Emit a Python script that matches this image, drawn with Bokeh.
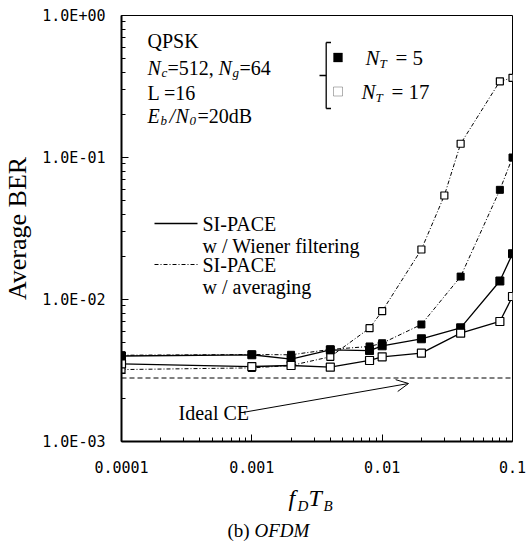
import math
from bokeh.plotting import figure
from bokeh.layouts import column
from bokeh.models import (FixedTicker, CustomJSTickFormatter, Label, Arrow, OpenHead,
                          Span, BoxAnnotation, Range1d)
from bokeh.embed import file_html
from bokeh.resources import INLINE

# ---------------- data ----------------
fdtb = [0.0001, 0.001, 0.002, 0.004, 0.008, 0.01, 0.02, 0.04, 0.08, 0.1]
wiener_nt5 = [4.0e-3, 4.08e-3, 3.8e-3, 4.42e-3, 4.37e-3, 4.72e-3, 5.29e-3, 6.32e-3, 1.35e-2, 2.1e-2]
wiener_nt17 = [3.52e-3, 3.37e-3, 3.43e-3, 3.34e-3, 3.72e-3, 3.95e-3, 4.19e-3, 5.79e-3, 7.0e-3, 1.05e-2]

avg_nt5_x = [0.0001, 0.001, 0.002, 0.004, 0.008, 0.01, 0.02, 0.04, 0.08, 0.1]
avg_nt5 = [4.05e-3, 4.1e-3, 4.08e-3, 4.45e-3, 4.67e-3, 4.92e-3, 6.67e-3, 1.45e-2, 5.92e-2, 1.0e-1]
avg_nt17_x = [0.0001, 0.001, 0.002, 0.004, 0.008, 0.01, 0.02, 0.03, 0.04, 0.08, 0.1]
avg_nt17 = [3.21e-3, 3.3e-3, 3.43e-3, 3.95e-3, 6.28e-3, 8.28e-3, 2.25e-2, 5.4e-2, 0.125, 0.344, 0.364]

ideal_ce = 2.8e-3

x_ticks = [0.0001, 0.001, 0.01, 0.1]
y_ticks = [0.001, 0.01, 0.1, 1.0]

# ---------------- main figure ----------------
W = 527
H1, H2 = 481, 60
L, R, T, B = 118, 15, 15, 40
p = figure(width=W, height=H1, x_axis_type="log", y_axis_type="log",
           x_range=(1e-4, 0.1), y_range=(1e-3, 1.0),
           output_backend="svg", toolbar_location=None,
           min_border_left=L, min_border_right=R, min_border_top=T, min_border_bottom=B)
p.background_fill_color = "white"
p.border_fill_color = "white"
p.xgrid.visible = False
p.ygrid.visible = False
p.outline_line_color = "black"
p.outline_line_width = 1

minor_x = [m * 10.0 ** e for e in range(-4, 0) for m in range(2, 10) if m * 10.0 ** e < 0.1]
minor_y = [m * 10.0 ** e for e in range(-3, 0) for m in range(2, 10)]
p.xaxis.ticker = FixedTicker(ticks=x_ticks, minor_ticks=minor_x)
p.yaxis.ticker = FixedTicker(ticks=y_ticks, minor_ticks=minor_y)
p.xaxis.formatter = CustomJSTickFormatter(code="return tick.toString();")
p.yaxis.formatter = CustomJSTickFormatter(code="""
const e = Math.round(Math.log10(tick));
const s = e < 0 ? '-' : '+';
const a = Math.abs(e);
return '1.0E' + s + (a < 10 ? '0' : '') + a;
""")
for ax in (p.xaxis, p.yaxis):
    ax.axis_line_width = 2
    ax.axis_line_color = "black"
    ax.major_tick_in = 7
    ax.major_tick_out = 0
    ax.minor_tick_in = 4
    ax.minor_tick_out = 0
    ax.major_tick_line_color = "black"
    ax.minor_tick_line_color = "black"
    ax.major_tick_line_width = 1
    ax.minor_tick_line_width = 1
    ax.major_label_text_font = "DejaVu Sans Mono"
    ax.major_label_text_font_size = "15px"
    ax.major_label_text_color = "black"
p.xaxis.major_label_standoff = 19
p.yaxis.major_label_standoff = 16

p.yaxis.axis_label = "Average BER"
p.yaxis.axis_label_text_font = "Liberation Serif"
p.yaxis.axis_label_text_font_size = "26px"
p.yaxis.axis_label_text_font_style = "normal"
p.yaxis.axis_label_text_color = "black"
p.yaxis.axis_label_standoff = 7

# ---------------- series ----------------
p.line(fdtb, wiener_nt5, line_color="black", line_width=1.3)
p.line(fdtb, wiener_nt17, line_color="black", line_width=1.3)
p.line(avg_nt5_x, avg_nt5, line_color="black", line_width=1, line_dash="4 2 1 2")
p.line(avg_nt17_x, avg_nt17, line_color="black", line_width=1, line_dash="4 2 1 2")

p.scatter(avg_nt5_x, avg_nt5, marker="square", size=7, fill_color="black", line_color="black")
p.scatter(avg_nt17_x, avg_nt17, marker="square", size=7, fill_color="white", line_color="black", line_width=1.2)
p.scatter(fdtb, wiener_nt5, marker="square", size=8, fill_color="black", line_color="black")
p.scatter(fdtb, wiener_nt17, marker="square", size=8, fill_color="white", line_color="black", line_width=1.2)

p.add_layout(Span(location=ideal_ce, dimension="width", line_color="black",
                  line_width=1, line_dash="5 3"))

# ---------------- annotations (positions in image pixels) ----------------
SERIF = "Liberation Serif"


def sx(px):
    return px - L


def sy(py):
    return (H1 - B) - py


def lab(px, py, text, size=20, style="normal", align="left", baseline="middle", angle=0.0):
    p.add_layout(Label(x=sx(px), y=sy(py), x_units="screen", y_units="screen", text=text,
                       text_font=SERIF, text_font_size=f"{size}px", text_font_style=style,
                       text_align=align, text_baseline=baseline, angle=angle,
                       text_color="black"))


def seg(x0, y0, x1, y1, dash="solid", width=1.3):
    p.add_layout(Arrow(x_start=sx(x0), y_start=sy(y0), x_end=sx(x1), y_end=sy(y1),
                       start_units="screen", end_units="screen", end=None,
                       line_color="black", line_width=width, line_dash=dash))


# parameters block
lab(144, 40, "QPSK")
lab(144, 67, "N", style="italic")
lab(158, 72, "c", size=13, style="italic")
lab(164, 67, "=512,")
lab(215, 67, "N", style="italic")
lab(229, 72, "g", size=13, style="italic")
lab(236, 67, "=64")
lab(144, 92, "L =16")
lab(144, 115, "E", style="italic")
lab(157, 120, "b", size=13, style="italic")
lab(166, 115, "/", style="italic")
lab(172, 115, "N", style="italic")
lab(186, 120, "0", size=13, style="italic")
lab(194, 115, "=20dB")

# N_T legend (bracket + markers)
seg(322.7, 42, 322.7, 108)
seg(322.7, 42, 327.5, 42)
seg(322.7, 108, 327.5, 108)
seg(316, 75, 322.7, 75)
p.add_layout(BoxAnnotation(left=sx(330), right=sx(339), top=sy(52.5), bottom=sy(61.5),
                           left_units="screen", right_units="screen", top_units="screen",
                           bottom_units="screen", fill_color="black", fill_alpha=1,
                           line_color="black", line_width=1))
p.add_layout(BoxAnnotation(left=sx(330), right=sx(339), top=sy(86.5), bottom=sy(95.5),
                           left_units="screen", right_units="screen", top_units="screen",
                           bottom_units="screen", fill_color="white", fill_alpha=1,
                           line_color="black", line_width=1))
lab(362, 57, "N", size=21, style="italic")
lab(376, 63, "T", size=13, style="italic")
lab(392, 57, "= 5", size=21)
lab(358, 91, "N", size=21, style="italic")
lab(372, 97, "T", size=13, style="italic")
lab(388, 91, "= 17", size=21)

# line-style legend
seg(151, 223, 194, 223, width=1.5)
lab(199, 223, "SI-PACE")
lab(199, 245, "w / Wiener filtering")
seg(151, 264, 194, 264, dash="4 2 1 2", width=1)
lab(199, 264, "SI-PACE")
lab(199, 286, "w / averaging")

# Ideal CE
lab(175, 412, "Ideal CE")
p.add_layout(Arrow(x_start=sx(239), y_start=sy(412), x_end=sx(405), y_end=sy(383),
                   start_units="screen", end_units="screen",
                   end=OpenHead(size=12, line_color="black", line_width=1),
                   line_color="black", line_width=1))

# ---------------- caption strip (frame aligned with the main frame) ----------------
p2 = figure(width=W, height=H2, x_range=Range1d(0, 1), y_range=Range1d(0, 1),
            output_backend="svg", toolbar_location=None,
            x_axis_location=None, y_axis_location=None,
            min_border_left=L, min_border_right=R,
            min_border_top=0, min_border_bottom=0)
p2.background_fill_color = "white"
p2.border_fill_color = "white"
p2.outline_line_color = None
p2.xgrid.visible = False
p2.ygrid.visible = False


def cap(px, py, text, size, style):
    p2.add_layout(Label(x=px - L, y=(H1 + H2) - py, x_units="screen", y_units="screen",
                        text=text, text_font=SERIF,
                        text_font_size=f"{size}px", text_font_style=style,
                        text_align="left", text_baseline="middle", text_color="black"))


cap(285, 497, "f", 24, "italic")
cap(294, 505, "D", 15, "italic")
cap(305, 497, "T", 24, "italic")
cap(320, 505, "B", 15, "italic")
cap(224, 530, "(b)", 19, "normal")
cap(251, 530, "OFDM", 19, "italic")

layout = column(p, p2, spacing=0)
open("out.html", "w").write(file_html(layout, INLINE))
